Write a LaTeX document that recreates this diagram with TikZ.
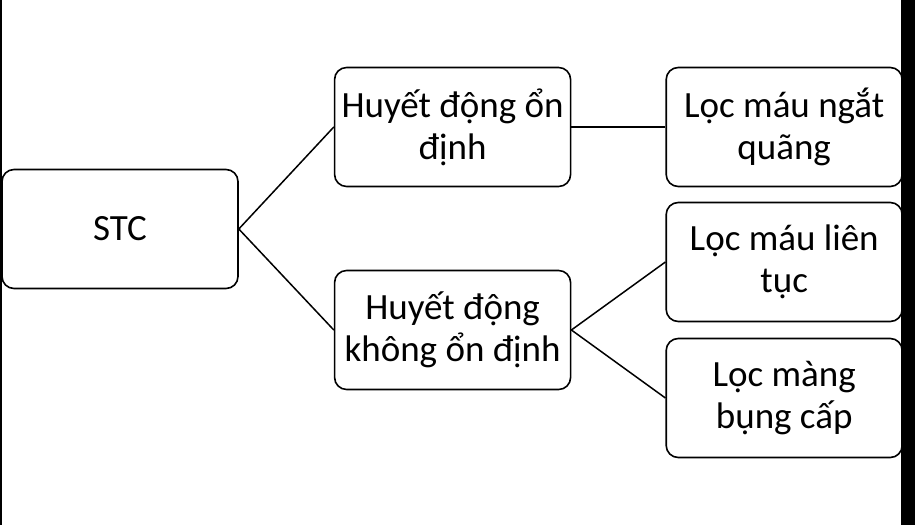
\documentclass[tikz,border=0pt]{standalone}
\usepackage{fontspec}
\setmainfont{Carlito}
\usepackage{tikz}
\usetikzlibrary{
    positioning,
    calc
}
\tikzset{
    tbox/.style={
        rectangle, rounded corners=12pt, draw=black, line width=1.6pt,
        fill=white, text=black, minimum width=236pt, minimum height=119pt,
        align=center, font=\fontsize{37}{42}\selectfont, inner sep=4pt
    },
    tline/.style={line width=1.5pt, black},
}

\begin{document}
\begin{tikzpicture}

    \useasboundingbox (0,0) rectangle (915pt,525pt);

    % ── nodes ─────────────────────────────────────────
    \node [tbox] (stc) at (120pt,296pt) {STC};

    \node [tbox, right=95pt of stc, yshift=102pt]
        (hdod) {Huyết động ổn\\định};
    \node [tbox, right=95pt of stc, yshift=-101pt]
        (hdkod) {Huyết động\\không ổn định};

    \node [tbox, right=94pt of hdod]
        (lmnq) {Lọc máu ngắt\\quãng};
    \node [tbox, right=94pt of hdkod, yshift=68pt]
        (lmlt) {Lọc máu liên\\tục};
    \node [tbox, right=94pt of hdkod, yshift=-68pt]
        (lmbc) {Lọc màng\\bụng cấp};

    % ── connectors ────────────────────────────────────
    \draw [tline] (stc.east) -- (hdod.west);
    \draw [tline] (stc.east) -- (hdkod.west);
    \draw [tline] (hdod.east) -- (lmnq.west);
    \draw [tline] (hdkod.east) -- (lmlt.west);
    \draw [tline] (hdkod.east) -- (lmbc.west);

    % ── edge strips ───────────────────────────────────
    \fill [black] (0,0) rectangle (2pt,525pt);
    \fill [black] (901pt,0) rectangle (915pt,525pt);

\end{tikzpicture}
\end{document}
